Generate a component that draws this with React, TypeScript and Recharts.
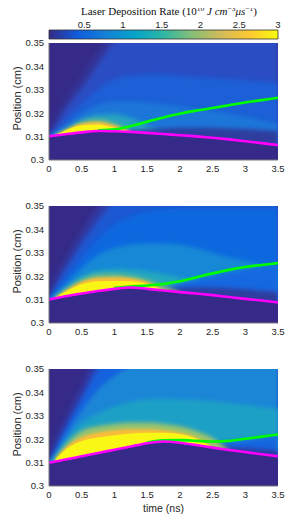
import React from 'react';
import { ComposedChart, Area, Line, XAxis, YAxis, CartesianGrid, ReferenceArea } from 'recharts';

// sample times (ns) shared by every curve
const times = [0, 0.1, 0.25, 0.5, 0.75, 1, 1.25, 1.5, 1.75, 2, 2.25, 2.5, 2.75, 3, 3.25, 3.5];
const timeTicks = [0, 0.5, 1, 1.5, 2, 2.5, 3, 3.5];
const positionTicks = [0.3, 0.31, 0.32, 0.33, 0.34, 0.35];
const colorbarTicks = [0.5, 1, 1.5, 2, 2.5, 3];
const colorbarRange = [0.045, 3];
const parula = ['#352a87', '#0f5cdd', '#1481d6', '#06a4ca', '#2eb7a4', '#87bf77', '#d1bb59', '#fec832', '#f9fb0e'];

// panel 1
const magenta1 = [0.3102, 0.3105, 0.311, 0.3118, 0.3124, 0.3123, 0.312, 0.3116, 0.3111, 0.3106, 0.3101, 0.3095, 0.3088, 0.308, 0.3072, 0.3064];
const green1 = [null, null, null, null, 0.3127, 0.3131, 0.3145, 0.3164, 0.3182, 0.3198, 0.3211, 0.3222, 0.3234, 0.3246, 0.3256, 0.3266];
const edge1 = [0.3102, 0.317, 0.325, 0.335, 0.346, 0.356, 0.36, 0.36, 0.36, 0.36, 0.36, 0.36, 0.36, 0.36, 0.36, 0.36];
const fan1 = [0.3102, 0.3145, 0.3215, 0.3305, 0.3405, 0.3505, 0.356, 0.36, 0.36, 0.36, 0.36, 0.36, 0.36, 0.36, 0.36, 0.36];
const blue1 = [0.3102, 0.3125, 0.317, 0.324, 0.33, 0.3345, 0.336, 0.3365, 0.3365, 0.336, 0.3355, 0.335, 0.3345, 0.334, 0.3335, 0.333];
const light1 = [0.3102, 0.3115, 0.3145, 0.32, 0.3235, 0.325, 0.325, 0.3245, 0.3238, 0.323, 0.322, 0.321, 0.3198, 0.3185, 0.317, 0.3155];
const teal1 = [null, 0.3108, 0.313, 0.3172, 0.3194, 0.3197, 0.318, 0.315, 0.3111, null, null, null, null, null, null, null];
const halo1 = [null, 0.3107, 0.3128, 0.3162, 0.3172, 0.3157, 0.312, null, null, null, null, null, null, null, null, null];
const orange1 = [null, 0.3107, 0.3127, 0.3156, 0.3162, 0.3147, 0.312, null, null, null, null, null, null, null, null, null];
const yellow1 = [null, 0.3107, 0.3126, 0.3148, 0.3152, 0.3138, 0.312, null, null, null, null, null, null, null, null, null];
const dark1 = [null, null, null, null, null, 0.3123, 0.3125, 0.313, 0.3135, 0.3138, 0.3138, 0.3137, 0.3135, 0.3132, 0.3128, 0.3124];

// panel 2
const magenta2 = [0.3101, 0.3106, 0.3114, 0.3126, 0.3137, 0.3146, 0.3152, 0.3146, 0.3139, 0.3132, 0.3126, 0.3119, 0.3111, 0.3103, 0.3096, 0.3088];
const green2 = [null, null, null, null, null, 0.315, 0.3156, 0.316, 0.3167, 0.3178, 0.3195, 0.3212, 0.3227, 0.3239, 0.3248, 0.3256];
const edge2 = [0.3101, 0.318, 0.326, 0.338, 0.349, 0.358, 0.36, 0.36, 0.36, 0.36, 0.36, 0.36, 0.36, 0.36, 0.36, 0.36];
const fan2 = [0.3101, 0.3155, 0.3225, 0.3335, 0.3435, 0.352, 0.36, 0.36, 0.36, 0.36, 0.36, 0.36, 0.36, 0.36, 0.36, 0.36];
const blue2 = [0.3101, 0.3135, 0.3185, 0.3275, 0.336, 0.342, 0.3455, 0.3475, 0.3485, 0.349, 0.349, 0.349, 0.349, 0.349, 0.349, 0.349];
const light2 = [0.3101, 0.3122, 0.3165, 0.3235, 0.329, 0.332, 0.3335, 0.334, 0.334, 0.3335, 0.332, 0.33, 0.328, 0.3265, 0.325, 0.324];
const teal2 = [null, 0.3112, 0.3145, 0.3198, 0.3225, 0.3232, 0.323, 0.3222, 0.321, 0.3195, 0.318, 0.316, 0.3135, 0.3103, null, null];
const under2 = [null, null, null, null, null, null, null, null, 0.3139, 0.317, 0.3185, 0.32, 0.3215, 0.3228, 0.3238, 0.3246];
const halo2 = [null, 0.3111, 0.3143, 0.3186, 0.3206, 0.3208, 0.3201, 0.3185, 0.316, 0.3132, null, null, null, null, null, null];
const orange2 = [null, 0.311, 0.3138, 0.3176, 0.3193, 0.3196, 0.3191, 0.3175, 0.3139, null, null, null, null, null, null, null];
const yellow2 = [null, 0.3109, 0.3134, 0.3166, 0.3178, 0.318, 0.3178, 0.3167, 0.3139, null, null, null, null, null, null, null];
const dark2 = [null, null, null, null, null, null, 0.3152, 0.315, 0.3149, 0.315, 0.3152, 0.3152, 0.3148, 0.3143, 0.3138, 0.3133];

// panel 3
const magenta3 = [0.31, 0.3105, 0.3113, 0.3127, 0.3141, 0.3155, 0.3169, 0.3183, 0.319, 0.3185, 0.3175, 0.3164, 0.3154, 0.3145, 0.3136, 0.3127];
const green3 = [null, null, null, null, null, null, null, 0.3186, 0.3195, 0.3196, 0.3193, 0.319, 0.3193, 0.3202, 0.3211, 0.322];
const edge3 = [0.31, 0.318, 0.327, 0.341, 0.355, 0.36, 0.36, 0.36, 0.36, 0.36, 0.36, 0.36, 0.36, 0.36, 0.36, 0.36];
const fan3 = [0.31, 0.3155, 0.324, 0.337, 0.35, 0.36, 0.36, 0.36, 0.36, 0.36, 0.36, 0.36, 0.36, 0.36, 0.36, 0.36];
const light3 = [0.31, 0.3135, 0.321, 0.332, 0.341, 0.347, 0.351, 0.353, 0.354, 0.354, 0.354, 0.354, 0.354, 0.354, 0.354, 0.354];
const teal3 = [0.31, 0.3125, 0.319, 0.327, 0.331, 0.334, 0.336, 0.337, 0.3372, 0.337, 0.3367, 0.3362, 0.3355, 0.3347, 0.3338, 0.333];
const under3 = [null, null, null, null, null, null, null, null, null, null, 0.3175, 0.3185, 0.319, 0.3198, 0.3207, 0.3216];
const halo3 = [null, 0.312, 0.3175, 0.3235, 0.3255, 0.3265, 0.327, 0.327, 0.3265, 0.3255, 0.3235, 0.3205, 0.3154, null, null, null];
const orange3 = [null, 0.3116, 0.3162, 0.3208, 0.3228, 0.3238, 0.3242, 0.3242, 0.3238, 0.3228, 0.3208, 0.3164, null, null, null, null];
const yellow3 = [null, 0.3114, 0.3155, 0.3192, 0.3207, 0.3217, 0.3224, 0.3228, 0.3228, 0.3222, 0.3203, 0.3164, null, null, null, null];
const dark3 = [null, null, null, null, null, null, null, null, null, null, 0.3175, 0.317, 0.3166, 0.3162, 0.3157, 0.3152];

const blurs = [0.5, 1.2, 2.2, 3.5];

type Layer = { key: string; top: (number | null)[]; color: string; blur: number };

const panels = [
  {
    id: 'p1', top: 38, magenta: magenta1, green: green1, timeLabel: false,
    layers: [
      { key: 'edge', top: edge1, color: '#31399f', blur: 3 },
      { key: 'fan', top: fan1, color: '#2c4dc4', blur: 2 },
      { key: 'blue', top: blue1, color: '#1c5fd6', blur: 2 },
      { key: 'light', top: light1, color: '#1a76d8', blur: 2 },
      { key: 'teal', top: teal1, color: '#25a2c2', blur: 2 },
      { key: 'dark', top: dark1, color: '#2e3c9e', blur: 2 },
      { key: 'halo', top: halo1, color: '#86c070', blur: 2 },
      { key: 'orange', top: orange1, color: '#f6bb40', blur: 1 },
      { key: 'yellow', top: yellow1, color: '#f9f514', blur: 0 },
    ] as Layer[],
  },
  {
    id: 'p2', top: 201, magenta: magenta2, green: green2, timeLabel: false,
    layers: [
      { key: 'edge', top: edge2, color: '#2d3fae', blur: 3 },
      { key: 'fan', top: fan2, color: '#1d58d2', blur: 2 },
      { key: 'blue', top: blue2, color: '#0b67df', blur: 2 },
      { key: 'light', top: light2, color: '#1888d6', blur: 2 },
      { key: 'teal', top: teal2, color: '#20a6c0', blur: 2 },
      { key: 'under', top: under2, color: '#1268e0', blur: 2 },
      { key: 'dark', top: dark2, color: '#2e3c9e', blur: 2 },
      { key: 'halo', top: halo2, color: '#86c075', blur: 2 },
      { key: 'orange', top: orange2, color: '#f8bb3a', blur: 1 },
      { key: 'yellow', top: yellow2, color: '#f9f614', blur: 0 },
    ] as Layer[],
  },
  {
    id: 'p3', top: 364, magenta: magenta3, green: green3, timeLabel: true,
    layers: [
      { key: 'edge', top: edge3, color: '#2a45bb', blur: 3 },
      { key: 'fan', top: fan3, color: '#1262de', blur: 2 },
      { key: 'light', top: light3, color: '#1a86d6', blur: 2 },
      { key: 'teal', top: teal3, color: '#1aa0c6', blur: 2 },
      { key: 'under', top: under3, color: '#1466e0', blur: 2 },
      { key: 'dark', top: dark3, color: '#2e3aa0', blur: 2 },
      { key: 'halo', top: halo3, color: '#9cc46a', blur: 2 },
      { key: 'orange', top: orange3, color: '#f8bc3a', blur: 1 },
      { key: 'yellow', top: yellow3, color: '#f9f714', blur: 0 },
    ] as Layer[],
  },
];

const axisColor = '#777';
const textColor = '#262626';
const tickStyle = { fontSize: 9.5, fill: textColor };

const PositionLabel = ({ viewBox }: any) => {
  const cx = 17;
  const cy = viewBox.y + viewBox.height / 2 - 3;
  return (
    <text x={cx} y={cy} transform={`rotate(-90, ${cx}, ${cy})`} textAnchor="middle" dominantBaseline="central" fontSize={11} fill={textColor}>
      Position (cm)
    </text>
  );
};

const TimeLabel = ({ viewBox }: any) => (
  <text x={viewBox.x + viewBox.width / 2} y={viewBox.y + 22} textAnchor="middle" dominantBaseline="central" fontSize={10.5} fill={textColor}>
    time (ns)
  </text>
);

const ColorbarTitle = () => (
  <text x={169} y={15} textAnchor="middle" fontFamily="'Liberation Serif', serif" fontSize={11} fill="#111">
    Laser Deposition Rate (10<tspan dy={-4} fontSize={7.5}>10</tspan>
    <tspan dy={4} fontStyle="italic"> J cm</tspan>
    <tspan dy={-4} fontSize={7.5}>−3</tspan>
    <tspan dy={4} fontStyle="italic">μs</tspan>
    <tspan dy={-4} fontSize={7.5}>−1</tspan>
    <tspan dy={4}>)</tspan>
  </text>
);

const colorbarData = [{ v: colorbarRange[0], y: 0 }, { v: colorbarRange[1], y: 1 }];

const Colorbar = () => (
  <div style={{ position: 'absolute', left: 0, top: 0 }}>
    <ComposedChart width={297} height={40} data={colorbarData} margin={{ top: 0, right: 19, bottom: 1, left: 49 }}>
      <defs>
        <linearGradient id="parula" x1="0" y1="0" x2="1" y2="0">
          {parula.map((c, i) => (
            <stop key={c} offset={`${(i / (parula.length - 1)) * 100}%`} stopColor={c} />
          ))}
        </linearGradient>
      </defs>
      <ReferenceArea x1={colorbarRange[0]} x2={colorbarRange[1]} y1={0} y2={1} fill="url(#parula)" fillOpacity={1} stroke="#333" strokeWidth={0.8} />
      <XAxis
        dataKey="v"
        type="number"
        orientation="top"
        domain={colorbarRange}
        allowDataOverflow
        ticks={colorbarTicks}
        height={30}
        axisLine={false}
        tickLine={false}
        tickSize={0}
        tickMargin={2}
        tick={tickStyle}
        label={{ content: ColorbarTitle }}
      />
      <YAxis dataKey="y" type="number" domain={[0, 1]} allowDataOverflow hide />
    </ComposedChart>
  </div>
);

const DepositionPanel = ({ panel }: { panel: (typeof panels)[number] }) => {
  const rows = times.map((t, i) => {
    const row: Record<string, number | null> = { t, magenta: panel.magenta[i], green: panel.green[i] };
    panel.layers.forEach((l) => {
      row[l.key] = l.top[i];
    });
    return row;
  });
  const height = panel.timeLabel ? 160 : 150;

  return (
    <div style={{ position: 'absolute', left: 0, top: panel.top }}>
      <ComposedChart width={297} height={height} data={rows} margin={{ top: 5, right: 19, bottom: 0, left: 0 }}>
        <defs>
          {blurs.map((s, i) => (
            <filter key={i} id={`${panel.id}-blur${i}`} filterUnits="userSpaceOnUse" x={-100} y={-100} width={500} height={400}>
              <feGaussianBlur stdDeviation={s} />
            </filter>
          ))}
        </defs>
        <CartesianGrid fill="#352a87" stroke="none" horizontal={false} vertical={false} />
        {panel.layers.map((l) => (
          <Area
            key={l.key}
            dataKey={l.key}
            type="monotone"
            baseValue="dataMin"
            stroke="none"
            fill={l.color}
            fillOpacity={1}
            filter={`url(#${panel.id}-blur${l.blur})`}
            dot={false}
            activeDot={false}
            isAnimationActive={false}
          />
        ))}
        <Area dataKey="magenta" type="monotone" baseValue="dataMin" stroke="none" fill="#352a87" fillOpacity={1} dot={false} activeDot={false} isAnimationActive={false} />
        <Line dataKey="green" type="monotone" stroke="#00ff00" strokeWidth={2.6} dot={false} activeDot={false} isAnimationActive={false} />
        <Line dataKey="magenta" type="monotone" stroke="#ff00ff" strokeWidth={2.6} dot={false} activeDot={false} isAnimationActive={false} />
        <XAxis
          dataKey="t"
          type="number"
          domain={[0, 3.5]}
          ticks={timeTicks}
          allowDataOverflow
          height={panel.timeLabel ? 38 : 28}
          stroke={axisColor}
          tickLine={false}
          tickSize={0}
          tickMargin={5}
          tick={tickStyle}
          label={panel.timeLabel ? { content: TimeLabel } : undefined}
        />
        <YAxis
          type="number"
          domain={[0.3, 0.35]}
          ticks={positionTicks}
          allowDataOverflow
          width={49}
          stroke={axisColor}
          tickLine={false}
          tickSize={0}
          tickMargin={5}
          tick={tickStyle}
          label={{ content: PositionLabel }}
        />
        <XAxis xAxisId="top" orientation="top" type="number" domain={[0, 3.5]} height={0} stroke={axisColor} tick={false} tickLine={false} />
        <YAxis yAxisId="right" orientation="right" type="number" domain={[0, 1]} width={0} stroke={axisColor} tick={false} tickLine={false} />
      </ComposedChart>
    </div>
  );
}

export default function App() {
  return (
    <div style={{ position: 'relative', width: 297, height: 525, margin: '-8px 0 0 -8px', fontFamily: "'Liberation Sans', Arial, sans-serif", background: '#fff' }}>
      <Colorbar />
      {panels.map((p) => (
        <DepositionPanel key={p.id} panel={p} />
      ))}
    </div>
  );
}
